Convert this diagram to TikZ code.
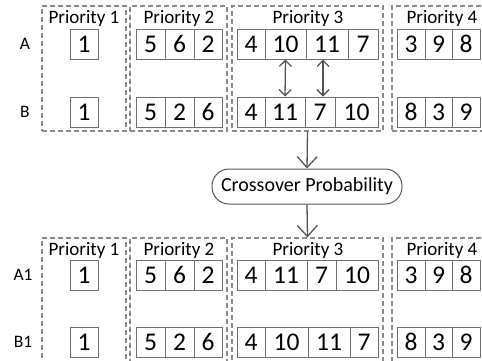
\documentclass[tikz,border=0pt]{standalone}
\usepackage{fontspec}
\setmainfont{Carlito}
\usetikzlibrary{arrows.meta}
\definecolor{cellgray}{HTML}{707070}
\definecolor{boxgray}{HTML}{8C8C8C}
\definecolor{arrowgray}{HTML}{555555}
\newcommand\mkcell[5]{\node[cell, minimum width={(#3-#2)*1pt}] (#1) at ({(#2+#3)/2},#4) {#5};}
\begin{document}
\begin{tikzpicture}[x=1pt,y=-1pt,
  cell/.style={draw=cellgray, line width=1pt, minimum height=30pt, inner sep=0pt, font=\fontsize{25.5}{25.5}\selectfont},
  grp/.style={draw=boxgray, line width=1.2pt, dash pattern=on 5pt off 3pt, inner sep=0pt},
  ptitle/.style={inner sep=0pt, font=\fontsize{19}{19}\selectfont},
  rowlab/.style={inner sep=0pt, font=\fontsize{17.5}{17.5}\selectfont},
  proc/.style={draw=arrowgray, line width=1pt, rounded corners=17pt, minimum width=190pt, minimum height=35pt, inner sep=0pt, font=\fontsize{20}{20}\selectfont},
  flow/.style={draw=arrowgray, line width=1.3pt, -{Straight Barb[length=11pt,width=20pt]}},
  swap/.style={draw=arrowgray, line width=1.3pt, {Straight Barb[length=6pt,width=12pt]}-{Straight Barb[length=6pt,width=12pt]}}]
\useasboundingbox (0,0) rectangle (482,360);
\clip (0,0) rectangle (482,360);
% group boxes top
\node[grp, minimum width=84pt, minimum height=125pt] (p1t) at (84,68.5) {};
\node[grp, minimum width=97pt, minimum height=125pt] (p2t) at (178.5,68.5) {};
\node[grp, minimum width=151pt, minimum height=125pt] (p3t) at (307.5,68.5) {};
\node[grp, minimum width=110pt, minimum height=125pt] (p4t) at (447,68.5) {};
% group boxes bottom
\node[grp, minimum width=84pt, minimum height=125pt] (p1b) at (84,300.5) {};
\node[grp, minimum width=97pt, minimum height=125pt] (p2b) at (178.5,300.5) {};
\node[grp, minimum width=151pt, minimum height=125pt] (p3b) at (307.5,300.5) {};
\node[grp, minimum width=110pt, minimum height=125pt] (p4b) at (447,300.5) {};
% titles
\node[ptitle] (t1t) at (84,18) {Priority 1};
\node[ptitle] (t2t) at (179,18) {Priority 2};
\node[ptitle] (t3t) at (308,18) {Priority 3};
\node[ptitle] (t4t) at (442,18) {Priority 4};
\node[ptitle] (t1b) at (84,250) {Priority 1};
\node[ptitle] (t2b) at (179,250) {Priority 2};
\node[ptitle] (t3b) at (308,250) {Priority 3};
\node[ptitle] (t4b) at (442,250) {Priority 4};
% row labels
\node[rowlab] (lA) at (25,44) {A};
\node[rowlab] (lB) at (25,112) {B};
\node[rowlab] (lA1) at (23,275) {A1};
\node[rowlab] (lB1) at (23,342) {B1};
% row A
\mkcell{tA1}{70}{98}{44}{1}
\mkcell{tA2a}{136}{165}{44}{5}
\mkcell{tA2b}{165}{194}{44}{6}
\mkcell{tA2c}{194}{222}{44}{2}
\mkcell{tA3a}{237}{265}{44}{4}
\mkcell{tA3b}{265}{306}{44}{10}
\mkcell{tA3c}{306}{348}{44}{11}
\mkcell{tA3d}{348}{378}{44}{7}
\mkcell{tA4a}{397}{425}{44}{3}
\mkcell{tA4b}{425}{452}{44}{9}
\mkcell{tA4c}{452}{480}{44}{8}
% row B
\mkcell{tB1}{70}{98}{112}{1}
\mkcell{tB2a}{136}{165}{112}{5}
\mkcell{tB2b}{165}{194}{112}{2}
\mkcell{tB2c}{194}{222}{112}{6}
\mkcell{tB3a}{237}{265}{112}{4}
\mkcell{tB3b}{265}{305}{112}{11}
\mkcell{tB3c}{305}{335}{112}{7}
\mkcell{tB3d}{335}{378}{112}{10}
\mkcell{tB4a}{397}{425}{112}{8}
\mkcell{tB4b}{425}{452}{112}{3}
\mkcell{tB4c}{452}{480}{112}{9}
% row A1
\mkcell{bA1}{70}{98}{275}{1}
\mkcell{bA2a}{136}{165}{275}{5}
\mkcell{bA2b}{165}{194}{275}{6}
\mkcell{bA2c}{194}{222}{275}{2}
\mkcell{bA3a}{237}{265}{275}{4}
\mkcell{bA3b}{265}{307}{275}{11}
\mkcell{bA3c}{307}{336}{275}{7}
\mkcell{bA3d}{336}{378}{275}{10}
\mkcell{bA4a}{397}{425}{275}{3}
\mkcell{bA4b}{425}{452}{275}{9}
\mkcell{bA4c}{452}{480}{275}{8}
% row B1
\mkcell{bB1}{70}{98}{342}{1}
\mkcell{bB2a}{136}{165}{342}{5}
\mkcell{bB2b}{165}{194}{342}{2}
\mkcell{bB2c}{194}{222}{342}{6}
\mkcell{bB3a}{237}{265}{342}{4}
\mkcell{bB3b}{265}{308}{342}{10}
\mkcell{bB3c}{308}{350}{342}{11}
\mkcell{bB3d}{350}{378}{342}{7}
\mkcell{bB4a}{397}{425}{342}{8}
\mkcell{bB4b}{425}{452}{342}{3}
\mkcell{bB4c}{452}{480}{342}{9}
% crossover
\node[proc] (cp) at (307,186.5) {Crossover Probability};
\draw[flow] (p3t.south) -- (cp.north);
\draw[flow] (cp.south) -- (p3b.north);
% swaps
\draw[swap] (tA3b.south) -- (tB3b.north);
\draw[swap] ([xshift=-4pt]tA3c.south) -- ([xshift=3pt]tB3c.north);
\end{tikzpicture}
\end{document}
